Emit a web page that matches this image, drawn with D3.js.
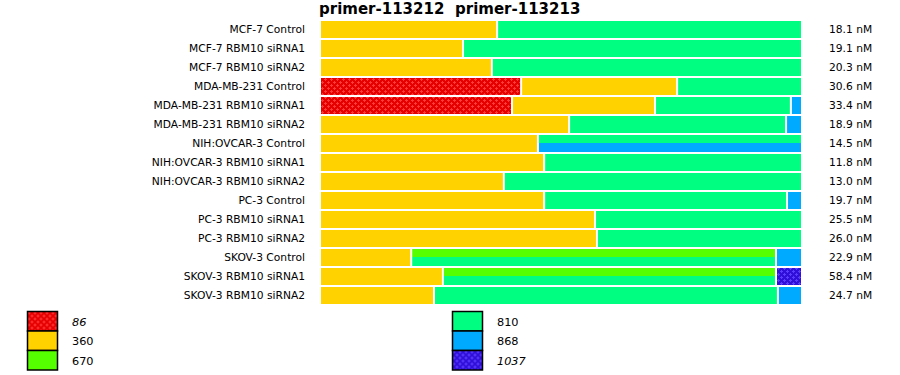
<!DOCTYPE html>
<html>
<head>
<meta charset="utf-8">
<script src="https://cdn.jsdelivr.net/npm/d3@7"></script>
<style>
  body { margin: 0; background: #fff; }
  text { font-family: "DejaVu Sans", Verdana, sans-serif; fill: #000; }
</style>
</head>
<body>
<script>
// samples (rows)
var categories = ["MCF-7 Control", "MCF-7 RBM10 siRNA1", "MCF-7 RBM10 siRNA2",
  "MDA-MB-231 Control", "MDA-MB-231 RBM10 siRNA1", "MDA-MB-231 RBM10 siRNA2",
  "NIH:OVCAR-3 Control", "NIH:OVCAR-3 RBM10 siRNA1", "NIH:OVCAR-3 RBM10 siRNA2",
  "PC-3 Control", "PC-3 RBM10 siRNA1", "PC-3 RBM10 siRNA2",
  "SKOV-3 Control", "SKOV-3 RBM10 siRNA1", "SKOV-3 RBM10 siRNA2"];
var totals = [18.1, 19.1, 20.3, 30.6, 33.4, 18.9, 14.5, 11.8, 13.0, 19.7, 25.5, 26.0, 22.9, 58.4, 24.7];
var titles = ["primer-113212", "primer-113213"];

// fraction of each bar per product size; "a|b" = unresolved pair of peaks
var s86   = [0, 0, 0, 0.419, 0.400, 0, 0, 0, 0, 0, 0, 0, 0, 0, 0];
var s360  = [0.369, 0.298, 0.358, 0.325, 0.298, 0.519, 0.454, 0.467, 0.383, 0.467, 0.573, 0.577, 0.190, 0.256, 0.2375];
var s670_810 = [0, 0, 0, 0, 0, 0, 0, 0, 0, 0, 0, 0, 0.760, 0.694, 0];
var s810  = [0.631, 0.702, 0.642, 0.256, 0.283, 0.452, 0, 0.533, 0.617, 0.506, 0.427, 0.423, 0, 0, 0.7165];
var s810_868 = [0, 0, 0, 0, 0, 0, 0.546, 0, 0, 0, 0, 0, 0, 0, 0];
var s868  = [0, 0, 0, 0, 0.019, 0.029, 0, 0, 0, 0.027, 0, 0, 0.050, 0, 0.046];
var s1037 = [0, 0, 0, 0, 0, 0, 0, 0, 0, 0, 0, 0, 0, 0.050, 0];

var legendLabels = ["86", "360", "670", "810", "868", "1037"];
var italicLabels = ["86", "1037"];

var width = 900, height = 375;
var colors = { "86": "url(#patRed)", "360": "#ffd200", "670": "#55ff00",
  "810": "#00ff80", "868": "#00aaff", "1037": "url(#patBlue)" };

var keys = ["86", "360", "670|810", "810", "810|868", "868", "1037"];
var cols = { "86": s86, "360": s360, "670|810": s670_810, "810": s810,
  "810|868": s810_868, "868": s868, "1037": s1037 };
var rows = categories.map(function(c, i) {
  var r = { name: c };
  keys.forEach(function(k) { r[k] = cols[k][i]; });
  return r;
});

var svg = d3.select("body").append("svg")
  .attr("width", width).attr("height", height);

/* patterns for the hatched sizes */
var defs = svg.append("defs");
function pattern(id, bg, fg) {
  var p = defs.append("pattern").attr("id", id)
    .attr("patternUnits", "userSpaceOnUse").attr("width", 6).attr("height", 6);
  p.append("rect").attr("width", 6).attr("height", 6).attr("fill", bg);
  [[1, 1], [4, 4]].forEach(function(o) {
    p.append("rect").attr("x", o[0]).attr("y", o[1] - 1).attr("width", 1).attr("height", 3).attr("fill", fg);
    p.append("rect").attr("x", o[0] - 1).attr("y", o[1]).attr("width", 3).attr("height", 1).attr("fill", fg);
  });
}
pattern("patRed", "#e60000", "#ff3838");
pattern("patBlue", "#3010d8", "#5a3cff");

var x = d3.scaleLinear().domain([0, 1]).range([321, 801]);
var y = d3.scaleBand().domain(categories).range([20, 305])
  .paddingInner(2 / 19).paddingOuter(1 / 19);

var stack = d3.stack().keys(keys)(rows);

var layer = svg.append("g").selectAll("g")
  .data(stack).enter().append("g");

layer.each(function(s) {
  var parts = s.key.split("|");
  var g = d3.select(this);
  var segs = s.filter(function(d) { return d[1] - d[0] > 0; });
  parts.forEach(function(p, j) {
    g.selectAll("rect.p" + j).data(segs).enter().append("rect")
      .attr("class", "p" + j)
      .attr("x", function(d) { return x(d[0]); })
      .attr("width", function(d) {
        var w = x(d[1]) - x(d[0]);
        return d[1] > 0.999 ? w : w - 2;
      })
      .attr("y", function(d) {
        var y0 = y(d.data.name);
        if (parts.length === 1) return y0;
        return j === 0 ? y0 : y0 + Math.floor(y.bandwidth() / 2);
      })
      .attr("height", function(d) {
        if (parts.length === 1) return y.bandwidth();
        var h = Math.floor(y.bandwidth() / 2);
        return j === 0 ? h : y.bandwidth() - h;
      })
      .attr("fill", colors[p]);
  });
});

/* row labels */
svg.append("g").selectAll("text").data(categories).enter().append("text")
  .attr("x", 305)
  .attr("y", function(d) { return y(d) + y.bandwidth() / 2; })
  .attr("dy", "0.36em")
  .attr("text-anchor", "end")
  .style("font-size", "10.7px")
  .text(function(d) { return d; });

/* totals */
svg.append("g").selectAll("text").data(totals).enter().append("text")
  .attr("x", 829)
  .attr("y", function(d, i) { return y(categories[i]) + y.bandwidth() / 2; })
  .attr("dy", "0.36em")
  .style("font-size", "10.7px")
  .text(function(d) { return d.toFixed(1) + " nM"; });

/* title */
svg.append("g").selectAll("text").data(titles).enter().append("text")
  .attr("x", function(d, i) { return i === 0 ? 319 : 455; })
  .attr("y", 13.5)
  .style("font-size", "15px")
  .style("font-weight", "bold")
  .text(function(d) { return d; });

/* legend */
var leg = svg.append("g").selectAll("g").data(legendLabels).enter().append("g")
  .attr("transform", function(d, i) {
    return "translate(" + (i < 3 ? 27.5 : 452.5) + "," + (311.5 + (i % 3) * 19.5) + ")";
  });
leg.append("rect")
  .attr("width", 30).attr("height", 19.5)
  .attr("fill", function(d) { return colors[d]; })
  .attr("stroke", "#000").attr("stroke-width", 1.5);
leg.append("text")
  .attr("x", 44.5).attr("y", 10)
  .attr("dy", "0.36em")
  .style("font-size", "11.3px")
  .style("font-style", function(d) { return italicLabels.indexOf(d) >= 0 ? "italic" : "normal"; })
  .text(function(d) { return d; });
</script>
</body>
</html>
